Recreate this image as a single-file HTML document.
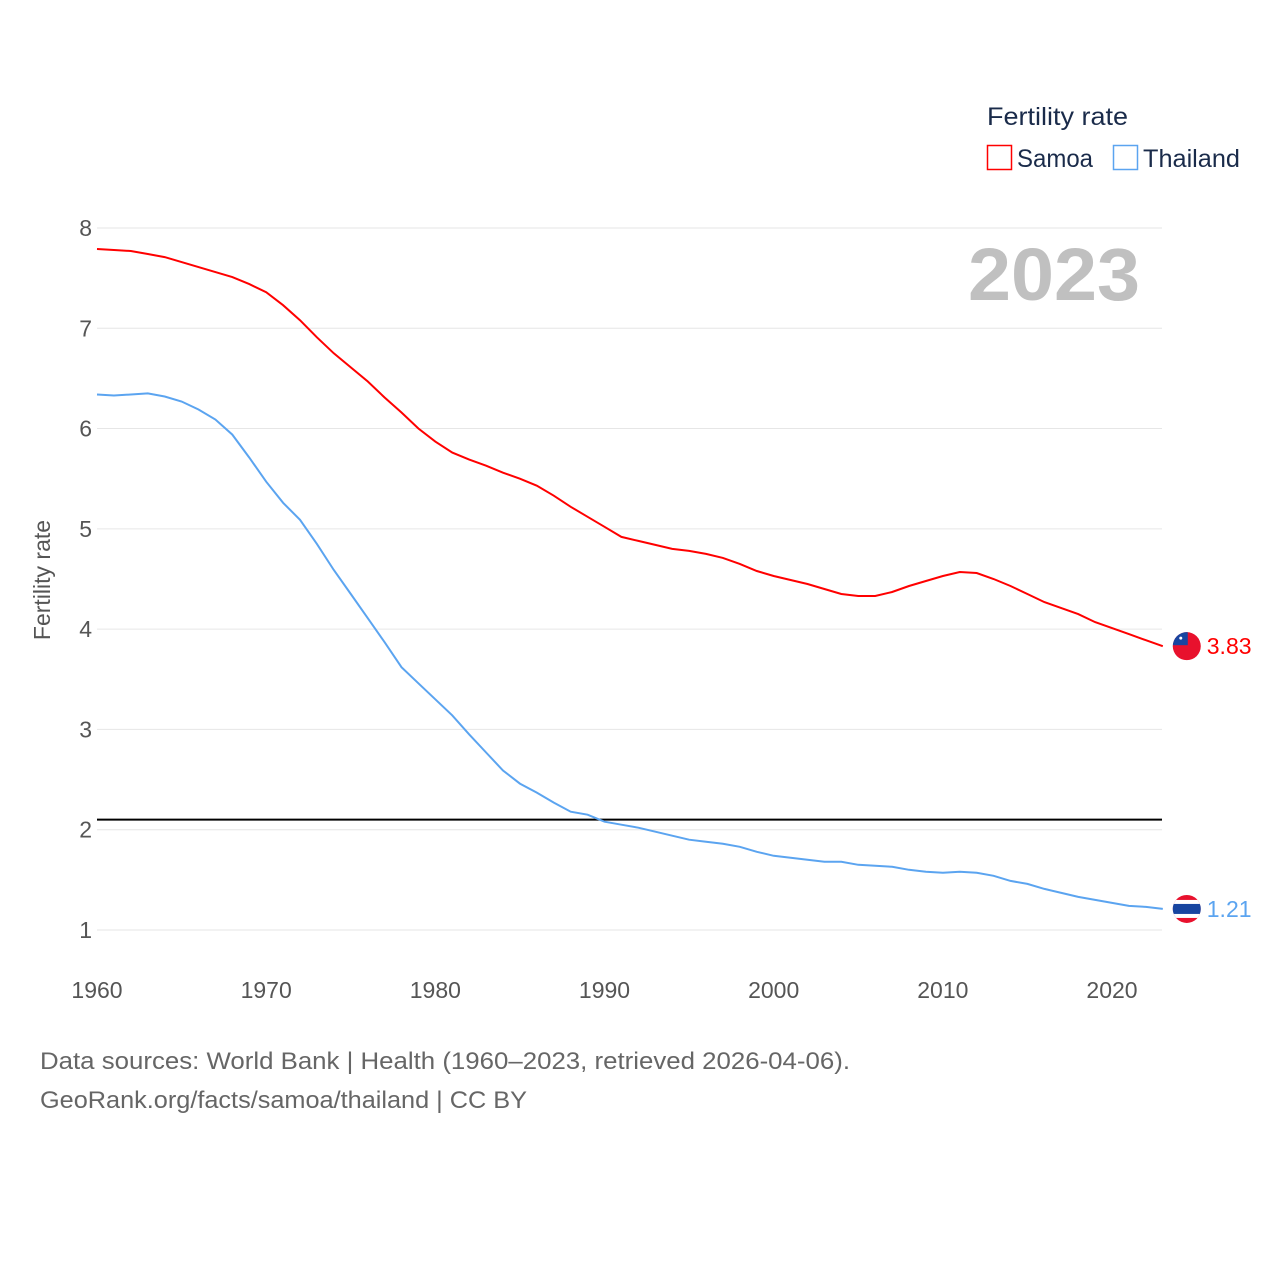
<!DOCTYPE html>
<html><head><meta charset="utf-8"><style>
html,body{margin:0;padding:0;background:#fff;width:1280px;height:1280px;overflow:hidden;font-family:"Liberation Sans",sans-serif}
</style></head><body>
<svg id="chart" width="1280" height="1280" xmlns="http://www.w3.org/2000/svg">
<defs>
<clipPath id="clipS"><circle id="cS" cx="0" cy="0" r="14"/></clipPath>
<clipPath id="clipT"><circle id="cT" cx="0" cy="0" r="14"/></clipPath>
</defs>
<text x="987" y="125" font-size="25" fill="#1a2b4a" textLength="141" lengthAdjust="spacingAndGlyphs">Fertility rate</text>
<g><rect x="987.5" y="145.5" width="24" height="24" fill="none" stroke="#f00" stroke-width="1.5"/><text x="1017" y="167" font-size="25" fill="#1a2b4a" textLength="76" lengthAdjust="spacingAndGlyphs">Samoa</text></g>
<g><rect x="1113.5" y="145.5" width="24" height="24" fill="none" stroke="#5ba4f0" stroke-width="1.5"/><text x="1143" y="167" font-size="25" fill="#1a2b4a" textLength="97" lengthAdjust="spacingAndGlyphs">Thailand</text></g>
<text x="1140" y="300" font-size="74" font-weight="bold" fill="#c0c0c0" text-anchor="end" textLength="172" lengthAdjust="spacingAndGlyphs">2023</text>
<text transform="translate(50,580) rotate(-90)" font-size="23" fill="#555" text-anchor="middle">Fertility rate</text>
<g id="grid"></g><g id="series"></g>
<text x="40" y="1069" font-size="24" fill="#666" textLength="810" lengthAdjust="spacingAndGlyphs">Data sources: World Bank | Health (1960–2023, retrieved 2026-04-06).</text>
<text x="40" y="1108" font-size="24" fill="#666" textLength="487" lengthAdjust="spacingAndGlyphs">GeoRank.org/facts/samoa/thailand | CC BY</text>
</svg>
<script>
const years=[];for(let y=1960;y<=2023;y++)years.push(y);
const samoa=[7.79,7.78,7.77,7.74,7.71,7.66,7.61,7.56,7.51,7.44,7.36,7.23,7.08,6.91,6.75,6.61,6.47,6.31,6.16,6.0,5.87,5.76,5.69,5.63,5.56,5.50,5.43,5.33,5.22,5.12,5.02,4.92,4.88,4.84,4.80,4.78,4.75,4.71,4.65,4.58,4.53,4.49,4.45,4.40,4.35,4.33,4.33,4.37,4.43,4.48,4.53,4.57,4.56,4.50,4.43,4.35,4.27,4.21,4.15,4.07,4.01,3.95,3.89,3.83];
const thailand=[6.34,6.33,6.34,6.35,6.32,6.27,6.19,6.09,5.94,5.71,5.47,5.26,5.09,4.85,4.59,4.35,4.11,3.87,3.62,3.46,3.30,3.14,2.95,2.77,2.59,2.46,2.37,2.27,2.18,2.15,2.08,2.05,2.02,1.98,1.94,1.90,1.88,1.86,1.83,1.78,1.74,1.72,1.70,1.68,1.68,1.65,1.64,1.63,1.60,1.58,1.57,1.58,1.57,1.54,1.49,1.46,1.41,1.37,1.33,1.30,1.27,1.24,1.23,1.21];
const yTicks=[1,2,3,4,5,6,7,8];
const xTicks=[1960,1970,1980,1990,2000,2010,2020];
const replacement=[2.1];
const X=y=>97+(y-1960)*16.917, Y=v=>930-(v-1)*100.29;
const NS="http://www.w3.org/2000/svg";
function mk(t,a,p){const e=document.createElementNS(NS,t);for(const k in a)e.setAttribute(k,a[k]);p.appendChild(e);return e;}
const g=document.getElementById('grid'),s=document.getElementById('series');
yTicks.forEach(v=>{
 const l=mk('line',{x1:97,x2:1162,y1:Y(v),y2:Y(v),stroke:'#e6e6e6','stroke-width':1},g);
 
 
 const t=mk('text',{x:92,y:Y(v)+8,'font-size':23,fill:'#555','text-anchor':'end'},g);t.textContent=v;
 
 
});
xTicks.forEach(v=>{
 const t=mk('text',{x:X(v),y:998,'font-size':23,fill:'#555','text-anchor':'middle'},g);t.textContent=v;
 
 
});
replacement.forEach(v=>{
 const l=mk('line',{x1:97,x2:1162,y1:Y(v),y2:Y(v),stroke:'#000','stroke-width':2},g);
 
 
});
function series(vals,color,name){
 const p=mk('path',{d:vals.map((v,i)=>(i?'L':'M')+X(years[i]).toFixed(1)+','+Y(v).toFixed(1)).join(''),fill:'none',stroke:color,'stroke-width':2},s);
 
 
 const last=vals[vals.length-1],lx=X(years[years.length-1]),ly=Y(last);
 const cx=lx+24;
 const fg=mk('g',{transform:'translate('+cx+','+ly+')','clip-path':name==='thailand'?'url(#clipT)':'url(#clipS)'},s);
 
 
 if(name==='thailand'){
  mk('rect',{x:-15,y:-15,width:30,height:30,fill:'#e8112d'},fg);
  mk('rect',{x:-15,y:-9,width:30,height:18,fill:'#fff'},fg);
  mk('rect',{x:-15,y:-5,width:30,height:10,fill:'#1845a0'},fg);
 } else {
  mk('rect',{x:-15,y:-15,width:30,height:30,fill:'#e8112d'},fg);
  mk('rect',{x:-15,y:-15,width:16,height:14,fill:'#1845a0'},fg);
  mk('circle',{cx:-6,cy:-8,r:1.5,fill:'#fff'},fg);
 }
 const t=mk('text',{x:lx+44,y:ly+8,'font-size':23,fill:color},s);t.textContent=last.toFixed(2);
 
 
}
series(samoa,'#f00','samoa');
series(thailand,'#5ba4f0','thailand');
</script>
</body></html>
